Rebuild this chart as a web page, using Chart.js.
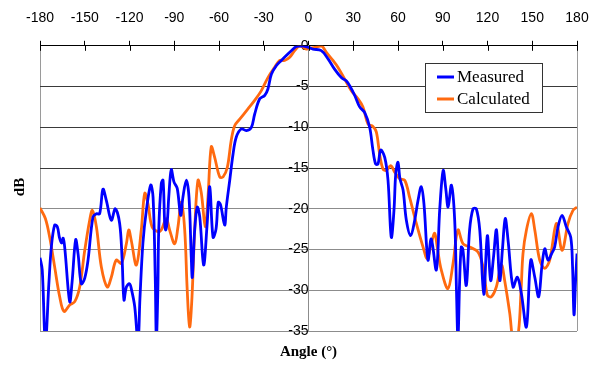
<!DOCTYPE html>
<html>
<head>
<meta charset="utf-8">
<script src="https://cdn.jsdelivr.net/npm/chart.js@4.4.1/dist/chart.umd.min.js"></script>
<style>
  html, body { margin: 0; padding: 0; background: #fff; }
</style>
</head>
<body>
<canvas id="patternChart" width="599" height="367"></canvas>
<script>
// Measured pattern, angle in degrees / level in dB
const measuredAngles = [
  -180, -178.5, -176.4, -174, -172.4, -170.2, -168.4, -167, -165.5, -164.5, -163.4,
  -160.1, -158.5, -156.1, -154.5, -152.3, -150, -147.8, -144.5, -142.2, -140,
  -137.8, -135.5, -132.2, -129.5, -126.6, -125, -123.7, -122.1, -120, -118.8,
  -116.5, -114.3, -113, -111, -108.7, -105.8, -104.2, -102.7, -102, -101,
  -100.4, -98.7, -97.5, -96.4, -95.7, -94.6, -93.7, -92, -90.2, -88,
  -85.7, -84.2, -81.9, -80.1, -78.6, -77.9, -76.3, -74.6, -72.9, -70.3,
  -68, -66.2, -64, -62, -60.5, -59, -56.2, -55.1, -52.8, -50.6,
  -48.4, -45, -41.7, -38.3, -36.1, -32.7, -29.4, -27.2, -24.9, -21.6,
  -18.2, -14.9, -11.5, -8.2, -4.8, 0, 3, 8.6, 13.1, 17.6,
  22, 25.3, 27.6, 31, 34.3, 37.7, 41, 43.2, 45, 46.6,
  48.4, 51.1, 53.3, 55.5, 57.3, 58.5, 60, 61.3, 63.4, 65.6,
  68.5, 71.2, 73.4, 75.6, 77.4, 80.1, 82.3, 85.7, 88, 90.3,
  92, 93.6, 95.8, 98, 99.2, 100.2, 101.3, 102.4, 103.5, 105.8,
  108, 110.3, 112.5, 114.8, 117.5, 119.9, 122.1, 124, 126, 128.2,
  130, 131.9, 133.8, 137.1, 140, 142.7, 146.1, 149, 151.7, 154.3,
  156.5, 158.4, 160.6, 163, 165, 167.3, 170, 172.8, 175.8, 177,
  178, 179, 180
];
const measuredDb = [
  -26.0, -27.5, -36.5, -29, -24.7, -22.0, -22.2, -23.5, -24.2, -23.6, -24.8,
  -31.4, -29, -23.8, -25.5, -29.2, -28.5, -26.3, -21.0, -20.6, -20.6,
  -17.6, -19.0, -21.4, -20.0, -21.8, -26, -31.2, -29.6, -29.2, -29.8,
  -32, -36.5, -31, -24.2, -20.2, -17.1, -18.6, -28.8, -36, -30,
  -22.6, -16.9, -16.5, -21.8, -22.6, -21.4, -18.6, -15.2, -16.7, -17.5,
  -20.8, -18.6, -16.5, -18.6, -25.9, -28.4, -22.6, -19.8, -21.0, -26.9,
  -22, -17.3, -23.5, -22.5, -19.2, -19.5, -22.0, -19.8, -16.5, -13.3,
  -11.2, -10.2, -10.4, -10.0, -8.4, -6.5, -6.1, -5.3, -3.5, -2.45,
  -1.8, -1.2, -0.6, -0.1, 0, -0.2, -0.4, -0.6, -1.6, -2.9,
  -3.9, -4.3, -4.9, -6.1, -7.5, -8.2, -10.0, -12.8, -14.5, -14.5,
  -12.8, -13.7, -16.5, -23.5, -20.2, -15.7, -14.3, -16.3, -17.7, -21.4,
  -23.3, -21.4, -19.0, -17.3, -19.4, -26.3, -23.7, -27.5, -20, -15.3,
  -17.5, -19.8, -17.1, -21.4, -30, -36, -29, -24.7, -25, -29.4,
  -22.6, -20.0, -20.0, -22.6, -30.5, -23.3, -28.8, -26, -22.6, -28.8,
  -25, -21.2, -23.9, -29.6, -28.4, -30.4, -34.5, -26.3, -28.4, -30.8,
  -27, -24.9, -26.3, -25.5, -24.7, -22.2, -20.8, -22.2, -23.5, -27,
  -33, -29, -25.5
];

// Calculated pattern
const calculatedAngles = [
  -180, -176.4, -173.5, -170.2, -166.8, -163.9, -160.1, -156.7, -153.4, -150,
  -146.7, -144.9, -142.2, -138.9, -134.9, -132.2, -128.9, -125.5, -122.1, -120.5,
  -118.8, -115.4, -112.1, -109.8, -107.6, -104.9, -100.9, -98.7, -95.3, -93.1,
  -89.7, -87.5, -85.3, -83, -81.3, -79.7, -78.1, -76.3, -74.1, -71.9,
  -69.2, -67.4, -65.2, -62.9, -59.5, -57.3, -54.4, -51.8, -49.5, -46.1,
  -40.6, -36.1, -31.6, -27.2, -22.7, -19.3, -16, -12.6, -9.3, -5.9,
  -1.5, 0, 4.2, 8.6, 12, 16.4, 19.8, 24.3, 28.7, 33.2,
  36.5, 39.9, 43.2, 45.5, 47.7, 49.9, 52.2, 55.1, 57.8, 61.1,
  64.5, 67.8, 72.3, 76.8, 79.6, 82.3, 84.6, 86.3, 89, 93.5,
  96.9, 100.2, 103.6, 108.1, 113.6, 117, 119.9, 122.6, 125.9, 129.3,
  131.5, 134.9, 137.5, 140.5, 142.5, 143.8, 146.1, 149.4, 151.7, 155,
  158.4, 161.7, 166.2, 170, 174, 177.3, 180
];
const calculatedDb = [
  -19.9, -21.2, -23.5, -27.1, -30.8, -32.6, -31.8, -31.4, -29.6, -25.1,
  -21.4, -20.2, -22.2, -27.1, -29.6, -28.4, -26.3, -26.7, -24.3, -22.6,
  -23.9, -26.9, -22.6, -18.1, -19.4, -22.2, -22.8, -22.6, -21.2, -22.6,
  -24.3, -22.2, -19.2, -22.6, -30.0, -34.5, -30.8, -22.6, -16.5, -18.0,
  -22.2, -18.6, -12.4, -13.7, -16.1, -16.1, -14.9, -11.6, -9.8, -9.0,
  -7.75, -6.7, -5.5, -3.9, -2.65, -1.8, -1.8, -1.4, -0.6, 0,
  -0.4, -0.3, -0.2, 0, -0.8, -1.8, -2.65, -4.1, -5.5, -6.5,
  -7.5, -9.6, -9.9, -10.6, -13.3, -15.1, -15.3, -14.7, -15.5, -16.3,
  -16.5, -18.6, -21.8, -24.7, -26.1, -24.3, -23.0, -24.7, -27.5, -29.8,
  -26.7, -22.6, -24.3, -24.7, -25.3, -27.1, -30.6, -30.8, -29.6, -26.9,
  -28.8, -32.8, -36.5, -35.5, -30, -25.5, -22.6, -20.6, -22.6, -26.3,
  -27.3, -26.3, -21.8, -25.1, -21.8, -20.2, -19.8
];

const angleTicks = [-180, -150, -120, -90, -60, -30, 0, 30, 60, 90, 120, 150, 180];
const dbTicks = [0, -5, -10, -15, -20, -25, -30, -35];

const seriesNames = ['Measured', 'Calculated'];
const seriesColors = ['#0000ff', '#ff6a10'];

const toPoints = (xs, ys) => xs.map((x, i) => ({ x, y: ys[i] }));

const tickFont = { family: '"Liberation Sans", Arial, sans-serif', size: 14 };

// axis titles, inner tick halves and boxed legend
const extras = {
  id: 'extras',
  afterDraw(chart) {
    const { ctx, chartArea, scales } = chart;
    const xs = scales.x;
    ctx.save();
    ctx.strokeStyle = '#000';
    ctx.lineWidth = 1;
    angleTicks.forEach(v => {
      const px = Math.round(xs.getPixelForValue(v)) + 0.5;
      ctx.beginPath();
      ctx.moveTo(px, chartArea.top);
      ctx.lineTo(px, chartArea.top + 5);
      ctx.stroke();
    });

    ctx.fillStyle = '#000';
    ctx.textAlign = 'center';
    ctx.textBaseline = 'middle';
    ctx.font = 'bold 15px "Liberation Serif", serif';
    ctx.fillText('Angle (°)', xs.getPixelForValue(0), 352);
    ctx.save();
    ctx.translate(20, 187);
    ctx.rotate(-Math.PI / 2);
    ctx.fillText('dB', 0, 0);
    ctx.restore();

    // legend
    ctx.fillStyle = '#fff';
    ctx.fillRect(425, 63, 117, 49);
    ctx.strokeStyle = '#333';
    ctx.strokeRect(425.5, 63.5, 117, 49);
    ctx.font = '17px "Liberation Serif", serif';
    ctx.textAlign = 'left';
    chart.data.datasets.forEach((ds, i) => {
      const y = 77 + i * 22;
      ctx.strokeStyle = ds.borderColor;
      ctx.lineWidth = 3;
      ctx.beginPath();
      ctx.moveTo(437, y);
      ctx.lineTo(454, y);
      ctx.stroke();
      ctx.fillStyle = '#000';
      ctx.fillText(ds.label, 457, y + 1);
    });
    ctx.restore();
  }
};

new Chart(document.getElementById('patternChart'), {
  type: 'line',
  data: {
    datasets: [
      {
        label: seriesNames[0],
        data: toPoints(measuredAngles, measuredDb),
        borderColor: seriesColors[0],
        borderWidth: 2.8,
        pointRadius: 0,
        tension: 0.35,
        fill: false
      },
      {
        label: seriesNames[1],
        data: toPoints(calculatedAngles, calculatedDb),
        borderColor: seriesColors[1],
        borderWidth: 2.8,
        pointRadius: 0,
        tension: 0.35,
        fill: false
      }
    ]
  },
  options: {
    responsive: false,
    animation: false,
    layout: { padding: { left: 40, right: 22, top: -4, bottom: 36 } },
    plugins: {
      legend: { display: false },
      tooltip: { enabled: false }
    },
    scales: {
      x: {
        type: 'linear',
        position: 'top',
        min: angleTicks[0],
        max: angleTicks[angleTicks.length - 1],
        afterBuildTicks: axis => { axis.ticks = angleTicks.map(v => ({ value: v })); },
        afterFit: axis => { axis.paddingLeft = 0; axis.paddingRight = 0; },
        ticks: { font: tickFont, color: '#000', padding: 14, autoSkip: false, maxRotation: 0 },
        grid: {
          color: c => (Math.abs(c.tick.value) === 180 ? '#9a9a9a' : 'rgba(0,0,0,0)'),
          tickColor: '#000',
          tickLength: 5
        },
        border: { color: '#000' }
      },
      y: {
        type: 'linear',
        position: { x: 0 },
        min: dbTicks[dbTicks.length - 1],
        max: dbTicks[0],
        afterBuildTicks: axis => { axis.ticks = dbTicks.map(v => ({ value: v })); },
        afterFit: axis => { axis.paddingLeft = 0; axis.paddingRight = 0; },
        ticks: { font: tickFont, color: '#000', padding: 3, autoSkip: false },
        grid: {
          color: c => (c.tick.value === 0 ? '#000' : c.tick.value >= -15 ? '#3a3a3a' : '#8c8c8c'),
          drawTicks: false
        },
        border: { color: '#8c8c8c' }
      }
    }
  },
  plugins: [extras]
});
</script>
</body>
</html>
